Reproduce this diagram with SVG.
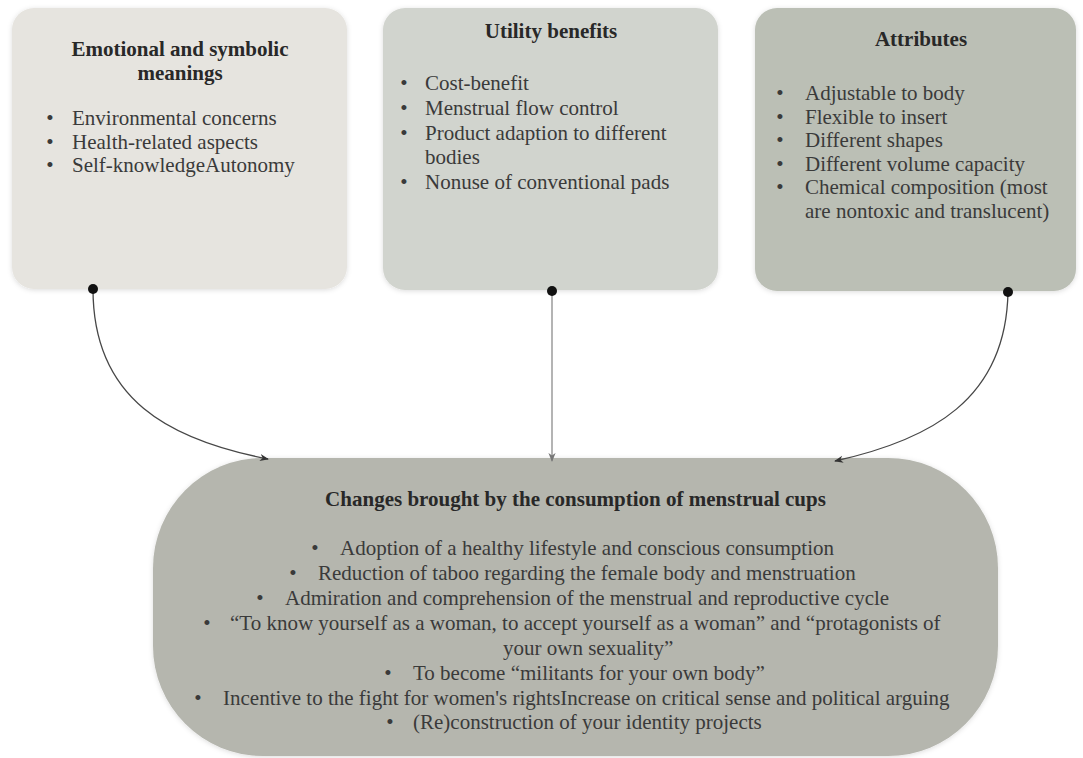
<svg xmlns="http://www.w3.org/2000/svg" width="1083" height="758" viewBox="0 0 1083 758">
<defs>
<style>
text{font-family:"Liberation Serif","Times New Roman",serif;font-size:21px;fill:#3a3a3a}
.t{font-weight:bold;fill:#282828;text-anchor:middle}
.b{text-anchor:middle}
.c{fill:none;stroke:#474747;stroke-width:1.3}
.m{fill:none;stroke:#8c8c8c;stroke-width:1.3}
.dot{fill:#111}
</style>
<filter id="sh" x="-5%" y="-5%" width="110%" height="110%">
<feGaussianBlur in="SourceAlpha" stdDeviation="2.5"/>
<feOffset dx="0" dy="1" result="b"/>
<feFlood flood-color="#000" flood-opacity="0.14"/>
<feComposite in2="b" operator="in"/>
<feMerge><feMergeNode/><feMergeNode in="SourceGraphic"/></feMerge>
</filter>
<marker id="ah" viewBox="0 0 10 10" refX="9" refY="5" markerWidth="9" markerHeight="9" markerUnits="userSpaceOnUse" orient="auto">
<path d="M0,1 L10,5 L0,9 L3,5 Z" fill="#333"/>
</marker>
<marker id="ahm" viewBox="0 0 10 10" refX="9" refY="5" markerWidth="9" markerHeight="9" markerUnits="userSpaceOnUse" orient="auto">
<path d="M0,1 L10,5 L0,9 L3,5 Z" fill="#777"/>
</marker>
</defs>
<rect width="1083" height="758" fill="#fff"/>

<g id="node-emotional">
<rect x="12" y="8" width="335" height="281" rx="22" fill="#e6e4df" filter="url(#sh)"/>
<text class="t" x="180" y="56">Emotional and symbolic</text>
<text class="t" x="180" y="80">meanings</text>
<text class="b" x="50" y="125">•</text><text x="72" y="125">Environmental concerns</text>
<text class="b" x="50" y="148.5">•</text><text x="72" y="148.5">Health-related aspects</text>
<text class="b" x="50" y="172">•</text><text x="72" y="172">Self-knowledgeAutonomy</text>
</g>

<g id="node-utility">
<rect x="383" y="8" width="335" height="282" rx="22" fill="#d1d4ce" filter="url(#sh)"/>
<text class="t" x="551" y="38">Utility benefits</text>
<text class="b" x="404" y="90">•</text><text x="425" y="90">Cost-benefit</text>
<text class="b" x="404" y="115">•</text><text x="425" y="115">Menstrual flow control</text>
<text class="b" x="404" y="140">•</text><text x="425" y="140">Product adaption to different</text>
<text x="425" y="164">bodies</text>
<text class="b" x="404" y="189">•</text><text x="425" y="189">Nonuse of conventional pads</text>
</g>

<g id="node-attributes">
<rect x="755" y="8" width="321" height="283" rx="22" fill="#bbbfb5" filter="url(#sh)"/>
<text class="t" x="921" y="46">Attributes</text>
<text class="b" x="780" y="100">•</text><text x="805" y="100">Adjustable to body</text>
<text class="b" x="780" y="123.5">•</text><text x="805" y="123.5">Flexible to insert</text>
<text class="b" x="780" y="147">•</text><text x="805" y="147">Different shapes</text>
<text class="b" x="780" y="170.5">•</text><text x="805" y="170.5">Different volume capacity</text>
<text class="b" x="780" y="194">•</text><text x="805" y="194">Chemical composition (most</text>
<text x="805" y="217.5">are nontoxic and translucent)</text>
</g>

<g id="node-changes">
<rect x="153" y="458" width="845" height="298" rx="110" fill="#b5b6ae" filter="url(#sh)"/>
<text class="t" x="575.5" y="506">Changes brought by the consumption of menstrual cups</text>
<text class="b" x="315" y="555">•</text><text x="340" y="555">Adoption of a healthy lifestyle and conscious consumption</text>
<text class="b" x="293" y="580">•</text><text x="318" y="580">Reduction of taboo regarding the female body and menstruation</text>
<text class="b" x="260" y="605">•</text><text x="285" y="605">Admiration and comprehension of the menstrual and reproductive cycle</text>
<text class="b" x="207" y="630">•</text><text x="230" y="630">“To know yourself as a woman, to accept yourself as a woman” and “protagonists of</text>
<text x="503" y="655">your own sexuality”</text>
<text class="b" x="388" y="680">•</text><text x="413" y="680">To become “militants for your own body”</text>
<text class="b" x="198" y="705">•</text><text x="223" y="705">Incentive to the fight for women's rightsIncrease on critical sense and political arguing</text>
<text class="b" x="390" y="729">•</text><text x="413" y="729">(Re)construction of your identity projects</text>
</g>

<g id="connectors">
<path class="c" d="M93,289 C93,400 170,440 268,459" marker-end="url(#ah)"/>
<path class="m" d="M552,291 L552,461" marker-end="url(#ahm)"/>
<path class="c" d="M1008,292 C1006,400 930,440 835,461" marker-end="url(#ah)"/>
<circle class="dot" cx="93" cy="289" r="5"/>
<circle class="dot" cx="552" cy="291" r="5"/>
<circle class="dot" cx="1008" cy="292" r="5"/>
</g>
</svg>
